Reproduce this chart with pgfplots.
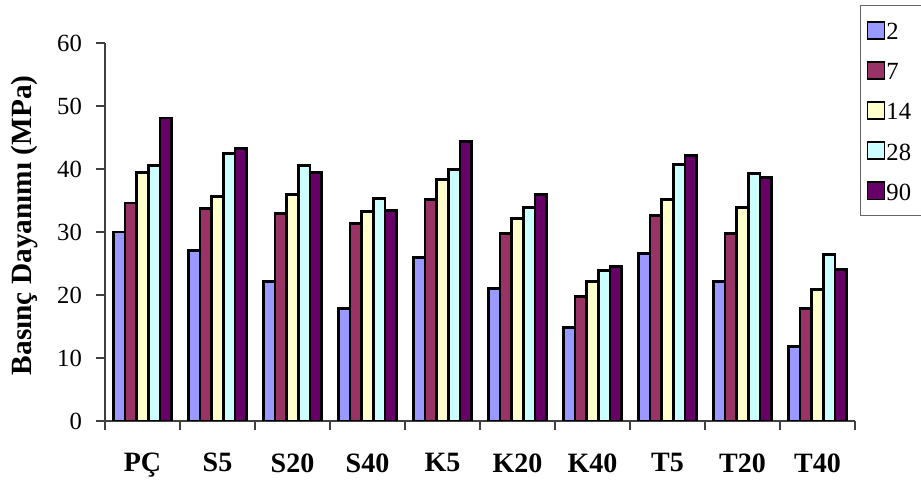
\documentclass[border=0pt]{standalone}
\usepackage{fontspec}
\setmainfont{Liberation Serif}
\usepackage{pgfplots}
\usepackage{pgfplotstable}
\pgfplotsset{compat=1.18}
\definecolor{c1}{HTML}{9999FF}
\definecolor{c2}{HTML}{993366}
\definecolor{c3}{HTML}{FFFFCC}
\definecolor{c4}{HTML}{CCFFFF}
\definecolor{c5}{HTML}{660066}
\pgfplotsset{mybar/.style={fill=#1, draw=black, line width=2.2pt,
  /pgfplots/legend image code/.code={\draw[fill=#1, draw=black, line width=1.4pt] (0pt,-6.4pt) rectangle (12.75pt,6.4pt);}}}
\pgfplotstableread{
x d2 d7 d14 d28 d90
0 30.0 34.6 39.4 40.5 48.1
1 27.0 33.8 35.7 42.5 43.3
2 22.1 32.9 35.9 40.5 39.5
3 17.8 31.3 33.2 35.3 33.4
4 25.9 35.1 38.4 39.9 44.4
5 21.1 29.8 32.2 33.9 36.0
6 14.9 19.7 22.2 23.9 24.5
7 26.6 32.6 35.2 40.7 42.1
8 22.1 29.7 33.9 39.3 38.7
9 11.8 17.9 20.8 26.4 24.0
}\datatable
\begin{document}
\begin{tikzpicture}
\begin{axis}[
  name=ax,
  scale only axis, width=562.5pt, height=283.5pt,
  xmin=-0.5, xmax=9.5, ymin=0, ymax=60,
  ybar=0pt, bar width=8.75pt,
  axis x line*=bottom, axis y line*=left,
  axis line style={-, draw=black!75, line width=0.8pt},
  xtick pos=bottom, ytick pos=left,
  xtick={0,...,9},
  xticklabels={PÇ,S5,S20,S40,K5,K20,K40,T5,T20,T40},
  major x tick style={draw=none},
  minor xtick={-0.5,0.5,...,9.5},
  ytick={0,10,...,60},
  tick align=outside, major tick length=6.5pt, minor tick length=6.5pt,
  tick style={draw=black!75, line width=0.8pt},
  /pgf/number format/assume math mode=true,
  xticklabel style={font=\fontsize{21}{25}\selectfont\bfseries, yshift=-14.3pt},
  yticklabel style={font=\fontsize{18.5}{22}\selectfont, xshift=-7.3pt},
  ylabel={Basınç Dayanımı (MPa)},
  ylabel style={font=\fontsize{22}{26}\selectfont\bfseries, at={(axis description cs:-0.1067,0.518)}, anchor=center},
  legend style={at={(axis description cs:1.0067,1.1005)}, anchor=north west,
    draw=black!60, line width=0.8pt, font=\fontsize{18.5}{22}\selectfont,
    inner xsep=4.5pt, inner ysep=10pt, row sep=13.25pt, nodes={inner ysep=0pt, inner xsep=0.75pt},
    cells={anchor=west}},
]
\addplot[mybar=c1] table[x=x, y=d2] {\datatable};
\addlegendentry{\makebox[45pt][l]{\strut 2}}
\addplot[mybar=c2] table[x=x, y=d7] {\datatable};
\addlegendentry{\makebox[45pt][l]{\strut 7}}
\addplot[mybar=c3] table[x=x, y=d14] {\datatable};
\addlegendentry{\makebox[45pt][l]{\strut 14}}
\addplot[mybar=c4] table[x=x, y=d28] {\datatable};
\addlegendentry{\makebox[45pt][l]{\strut 28}}
\addplot[mybar=c5] table[x=x, y=d90] {\datatable};
\addlegendentry{\makebox[45pt][l]{\strut 90}}
\end{axis}
\pgfresetboundingbox
\path ([xshift=-78.75pt,yshift=-47.25pt]ax.south west) rectangle ([xshift=49.5pt,yshift=32.25pt]ax.north east);
\end{tikzpicture}
\end{document}
